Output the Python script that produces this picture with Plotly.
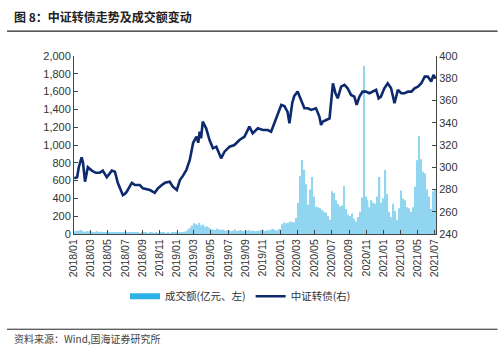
import datetime as dt
import plotly.graph_objects as go

# ---- data ----
line_dates = [
    "2018-01-02", "2018-01-12", "2018-01-18", "2018-01-28", "2018-02-02", "2018-02-09", "2018-02-19",
    "2018-03-05", "2018-03-19", "2018-04-02", "2018-04-13", "2018-04-27", "2018-05-15", "2018-05-26",
    "2018-06-05", "2018-06-16", "2018-06-23", "2018-06-30", "2018-07-07", "2018-07-18", "2018-07-25",
    "2018-08-05", "2018-08-22", "2018-09-02", "2018-09-16", "2018-09-27", "2018-10-14", "2018-10-25",
    "2018-11-08", "2018-11-19", "2018-12-06", "2018-12-17", "2018-12-31", "2019-01-11", "2019-01-21",
    "2019-02-03", "2019-02-15", "2019-02-27", "2019-03-11", "2019-03-17", "2019-03-22", "2019-03-27",
    "2019-04-02", "2019-04-14", "2019-04-26", "2019-05-08", "2019-05-20", "2019-06-06", "2019-06-18",
    "2019-07-06", "2019-07-23", "2019-08-10", "2019-08-28", "2019-09-14", "2019-09-26", "2019-10-14",
    "2019-11-01", "2019-11-18", "2019-11-30", "2019-12-18", "2019-12-30", "2020-01-05", "2020-01-16",
    "2020-01-27", "2020-02-03", "2020-02-13", "2020-02-20", "2020-03-03", "2020-03-15", "2020-03-27",
    "2020-04-08", "2020-04-20", "2020-05-07", "2020-05-19", "2020-05-25", "2020-05-31", "2020-06-12",
    "2020-06-24", "2020-07-06", "2020-07-15", "2020-07-23", "2020-08-04", "2020-08-16", "2020-08-27",
    "2020-09-08", "2020-09-20", "2020-09-28", "2020-10-08", "2020-10-19", "2020-10-31", "2020-11-12",
    "2020-11-24", "2020-12-06", "2020-12-15", "2020-12-23", "2021-01-04", "2021-01-16", "2021-01-28",
    "2021-02-09", "2021-02-21", "2021-03-05", "2021-03-17", "2021-03-29", "2021-04-10", "2021-04-21",
    "2021-05-03", "2021-05-15", "2021-05-27", "2021-06-07", "2021-06-19", "2021-06-27", "2021-07-04",
]
csi_cb_index = [
    290, 291, 300, 309, 304, 287, 300,
    297, 295, 295, 297, 291, 297, 296,
    286, 280, 275, 276, 278, 283, 286,
    284, 284, 281, 280, 279.5, 277, 281,
    284, 286, 287, 282.5, 279.5, 288.5, 292,
    297.5, 306.5, 322, 327.5, 322, 332, 326,
    341, 335, 324.5, 317, 318.5, 308, 314,
    318.5, 320, 324.5, 327.5, 336.5, 330.5, 335,
    333.5, 333.5, 332, 344, 353, 356, 355,
    350, 339.5, 358, 364, 368, 360.5, 353,
    353, 351.5, 353, 345.5, 338, 341, 342.5,
    344, 375.5, 366.5, 362, 372.5, 374, 371,
    365, 363.5, 356, 363.5, 368, 368, 366.5,
    368, 369.5, 362, 363.5, 371, 375.5, 371,
    357.5, 369.5, 366.5, 366.5, 368, 368, 371,
    372.5, 375.5, 381.5, 381.5, 377, 383, 380,
]

vol_start = "2018-01-05"   # weekly observations
turnover = [
    30, 35, 40, 45, 30, 25, 35, 30,
    25, 20, 25, 30, 20, 25, 20, 15,
    20, 25, 20, 15, 20, 15, 20, 15,
    15, 20, 15, 20, 15, 15, 20, 15,
    15, 10, 15, 20, 15, 10, 15, 15,
    10, 15, 10, 15, 20, 15, 10, 15,
    10, 15, 20, 15, 10, 15, 20, 25, 30,
    50,
    70, 95, 120, 110, 100, 125, 95, 105, 80, 85, 70,
    55, 50, 45, 60, 50, 45, 50, 40,
    40, 45, 35, 40, 50, 35, 40, 45, 35, 30, 40, 45, 35, 40, 30, 35,
    40, 45, 50, 35, 45, 40, 50, 60, 45, 40, 55, 50,
    110, 130, 120, 125, 140, 135, 130,
    180, 350, 650, 830, 720, 560, 330, 500, 640, 420,
    310, 300, 290, 270, 250, 240, 200, 160, 480, 460,
    380, 340, 310, 320, 540, 280, 220, 200, 230, 170,
    140, 190, 250, 410, 1890, 420, 380, 300, 380, 350,
    340, 420, 640, 350, 400, 720, 450, 250, 190, 340,
    260, 160, 290, 490, 400, 380, 300, 290, 250, 300,
    530, 830, 1100, 840, 700, 680, 500, 420, 280, 480,
    500,
]
d0 = dt.date.fromisoformat(vol_start)
vol_dates = [d0 + dt.timedelta(days=7 * i) for i in range(len(turnover))]

title_text = "图 8：中证转债走势及成交额变动"
source_text = "资料来源：Wind,国海证券研究所"
bar_name = "成交额(亿元、左)"
line_name = "中证转债(右)"

BAR_COLOR = "#92D5F1"
LEG_BAR_COLOR = "#2DB2E8"
LINE_COLOR = "#0E2A6E"
FONT = "Noto Sans CJK SC"

fig = go.Figure()
fig.add_trace(go.Bar(x=vol_dates, y=turnover, marker=dict(color=BAR_COLOR, line_width=0),
                     showlegend=False, yaxis="y"))
fig.add_trace(go.Scatter(x=[None], y=[None], mode="lines", name=bar_name,
                         line=dict(color=LEG_BAR_COLOR, width=6)))
fig.add_trace(go.Scatter(x=line_dates, y=csi_cb_index, mode="lines", name=line_name,
                         line=dict(color=LINE_COLOR, width=2.6), yaxis="y2"))

axis_common = dict(showline=True, linecolor="#444", linewidth=1, ticks="inside", ticklen=4,
                   tickcolor="#444", showgrid=False, zeroline=False)
tick_font = dict(family="Liberation Sans, Arial", size=11, color="#333")

fig.update_layout(
    width=500, height=345,
    margin=dict(l=74, r=64, t=56, b=111),
    paper_bgcolor="white", plot_bgcolor="white",
    bargap=0.3,
    font=dict(family=FONT, size=11, color="#333"),
    xaxis=dict(type="date", range=["2018-01-01", "2021-07-06"], tick0="2018-01-01", dtick="M2",
               tickformat="%Y/%m", tickangle=-90, **axis_common,
               tickfont=dict(family="Liberation Sans, Arial", size=10.5, color="#333")),
    yaxis=dict(range=[0, 2000], dtick=200, tickformat=",", tickfont=tick_font, **axis_common),
    yaxis2=dict(range=[240, 400], dtick=20, overlaying="y", side="right", tickfont=tick_font,
                **axis_common),
    legend=dict(orientation="h", x=0.46, xanchor="center", y=-0.35, yanchor="middle",
                font=dict(family=FONT, size=10.5, color="#333"), itemwidth=30,
                bgcolor="rgba(0,0,0,0)", tracegroupgap=0),
    showlegend=True,
)

# header / footer rules and texts
fig.add_shape(type="line", xref="paper", yref="paper", x0=-0.185, x1=1.17, y0=1.14, y1=1.14,
              line=dict(color="#222", width=1.2))
fig.add_shape(type="line", xref="paper", yref="paper", x0=-0.185, x1=1.17, y0=-0.535, y1=-0.535,
              line=dict(color="#222", width=1))
fig.add_annotation(text="<b>" + title_text + "</b>", xref="paper", yref="paper", x=-0.172, y=1.22,
                   xanchor="left", yanchor="middle", showarrow=False,
                   font=dict(family=FONT, size=12, color="#222"))
fig.add_annotation(text=source_text, xref="paper", yref="paper", x=-0.172, y=-0.585,
                   xanchor="left", yanchor="middle", showarrow=False,
                   font=dict(family=FONT, size=10, color="#444"))

fig.write_html("out.html")
